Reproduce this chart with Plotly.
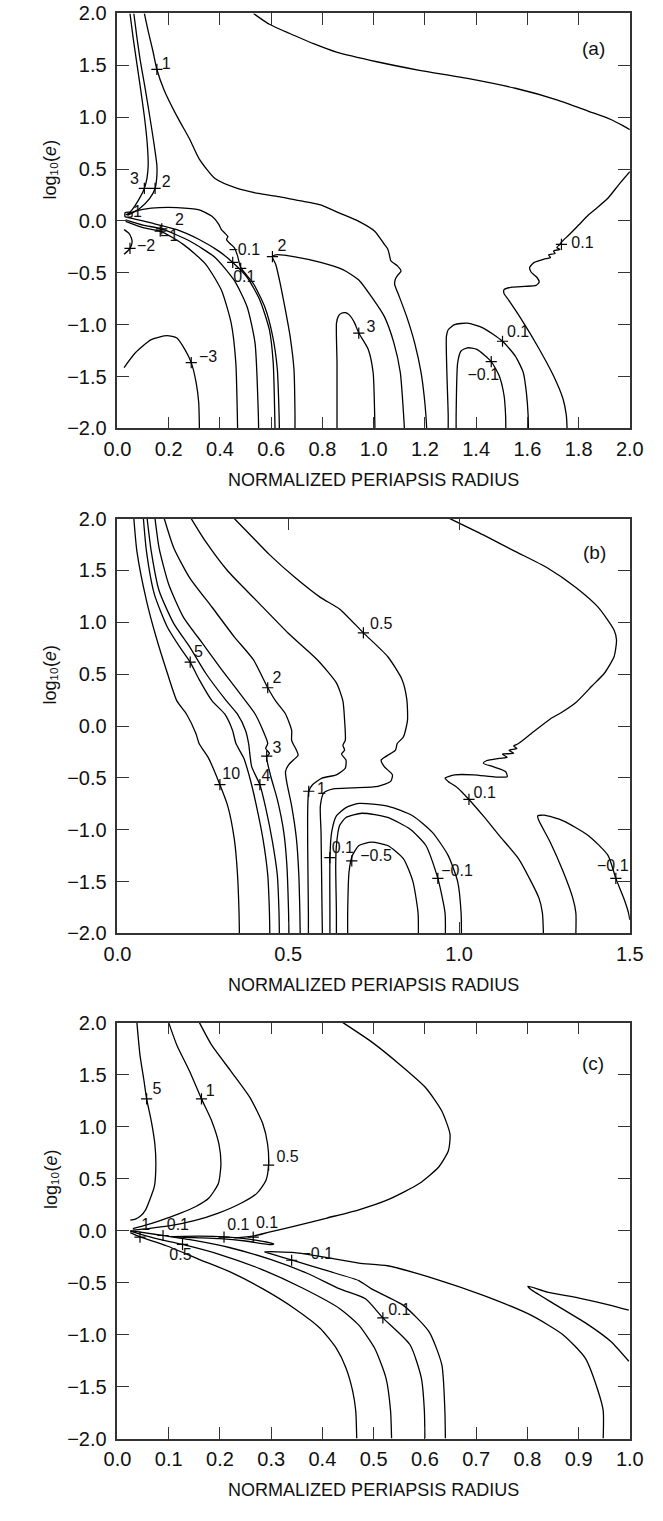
import plotly.graph_objects as go

# ======================= PANEL (a) data =======================
A_ONE_X = [0.105, 0.120, 0.138, 0.154, 0.182, 0.232, 0.282, 0.319, 0.381, 0.468, 0.55, 0.631, 0.71, 0.793, 0.867, 0.942, 1.004, 1.042, 1.055, 1.061, 1.067, 1.080, 1.092, 1.107, 1.095, 1.085, 1.082, 1.098, 1.129, 1.160, 1.185, 1.197, 1.204, 1.207]
A_ONE_Y = [2.0, 1.829, 1.643, 1.46, 1.263, 1.01, 0.788, 0.598, 0.408, 0.313, 0.265, 0.234, 0.195, 0.154, 0.075, -0.004, -0.099, -0.226, -0.27, -0.321, -0.384, -0.41, -0.431, -0.486, -0.52, -0.56, -0.612, -0.716, -0.923, -1.176, -1.461, -1.683, -1.873, -2.0]
A_TWO_X = [0.064, 0.076, 0.089, 0.107, 0.126, 0.142, 0.154, 0.154, 0.147, 0.126, 0.088, 0.057, 0.039]
A_TWO_Y = [2.0, 1.769, 1.548, 1.294, 1.009, 0.756, 0.534, 0.439, 0.313, 0.218, 0.123, 0.075, 0.053]
A_THREE_X = [0.049, 0.061, 0.074, 0.089, 0.105, 0.116, 0.120, 0.115, 0.105, 0.082, 0.057, 0.039]
A_THREE_Y = [2.0, 1.769, 1.548, 1.294, 1.009, 0.756, 0.534, 0.408, 0.313, 0.2, 0.106, 0.059]
A_TOP_X = [0.531, 0.593, 0.693, 0.768, 0.855, 1.017, 1.179, 1.366, 1.553, 1.715, 1.839, 1.926, 1.976, 2.0]
A_TOP_Y = [2.0, 1.896, 1.785, 1.706, 1.627, 1.532, 1.452, 1.374, 1.279, 1.168, 1.057, 0.978, 0.914, 0.88]
A_FAN_M1_X = [0.032, 0.100, 0.169, 0.257, 0.344, 0.406, 0.444, 0.462, 0.468, 0.469]
A_FAN_M1_Y = [-0.004, -0.065, -0.10, -0.226, -0.416, -0.669, -0.986, -1.366, -1.873, -2.0]
A_FAN_2_X = [0.032, 0.100, 0.173, 0.282, 0.381, 0.456, 0.506, 0.537, 0.550, 0.551]
A_FAN_2_Y = [0.011, -0.04, -0.077, -0.194, -0.352, -0.574, -0.828, -1.176, -1.873, -2.0]
A_FAN_M01_X = [0.039, 0.132, 0.232, 0.319, 0.394, 0.450, 0.506, 0.556, 0.593, 0.608, 0.614, 0.615]
A_FAN_M01_Y = [0.034, -0.02, -0.084, -0.179, -0.289, -0.40, -0.543, -0.764, -1.049, -1.366, -1.873, -2.0]
A_ARC_01_X = [0.032, 0.07, 0.132, 0.232, 0.319, 0.369, 0.395, 0.406, 0.42, 0.431, 0.426, 0.44, 0.456, 0.468, 0.481, 0.531, 0.575, 0.606, 0.624, 0.631, 0.632]
A_ARC_01_Y = [0.059, 0.095, 0.123, 0.129, 0.106, 0.044, -0.03, -0.084, -0.12, -0.15, -0.18, -0.22, -0.257, -0.33, -0.448, -0.606, -0.828, -1.113, -1.430, -1.873, -2.0]
A_U2_X = [0.693, 0.693, 0.689, 0.674, 0.655, 0.635, 0.618, 0.605, 0.618, 0.693, 0.793, 0.88, 0.942, 0.992, 1.042, 1.079, 1.104, 1.117, 1.12]
A_U2_Y = [-2.0, -1.873, -1.43, -1.113, -0.85, -0.6, -0.42, -0.345, -0.327, -0.346, -0.40, -0.47, -0.57, -0.733, -0.923, -1.176, -1.461, -1.873, -2.0]
A_U3_X = [0.857, 0.857, 0.855, 0.862, 0.874, 0.89, 0.905, 0.925, 0.942, 0.979, 0.998, 1.004, 1.005]
A_U3_Y = [-2.0, -1.366, -0.986, -0.92, -0.89, -0.885, -0.906, -0.98, -1.081, -1.239, -1.461, -1.873, -2.0]
A_M3_X = [0.026, 0.07, 0.132, 0.194, 0.232, 0.263, 0.288, 0.307, 0.317, 0.320]
A_M3_Y = [-1.414, -1.271, -1.144, -1.106, -1.129, -1.239, -1.366, -1.556, -1.746, -2.0]
A_M2_X = [0.026, 0.045, 0.055, 0.057, 0.049, 0.040, 0.026]
A_M2_Y = [-0.084, -0.12, -0.17, -0.21, -0.264, -0.29, -0.321]
A_BOX_X = [0.030, 0.056, 0.056, 0.030, 0.030]
A_BOX_Y = [0.040, 0.040, 0.080, 0.080, 0.040]
A_WIG_X = [2.0, 1.96, 1.914, 1.864, 1.839, 1.80, 1.764, 1.733, 1.727, 1.715, 1.727, 1.702, 1.708, 1.683, 1.690, 1.665, 1.627, 1.609, 1.615, 1.637, 1.646, 1.634, 1.590, 1.540, 1.509, 1.509, 1.527, 1.578, 1.640, 1.702, 1.739, 1.752, 1.755]
A_WIG_Y = [0.475, 0.36, 0.218, 0.11, 0.059, -0.04, -0.131, -0.205, -0.226, -0.257, -0.274, -0.289, -0.314, -0.327, -0.352, -0.369, -0.40, -0.448, -0.495, -0.543, -0.590, -0.622, -0.631, -0.638, -0.663, -0.701, -0.764, -0.954, -1.208, -1.493, -1.715, -1.873, -2.0]
A_LP01_X = [1.291, 1.291, 1.284, 1.291, 1.316, 1.366, 1.428, 1.503, 1.553, 1.584, 1.596, 1.603, 1.604]
A_LP01_Y = [-2.0, -1.873, -1.113, -1.049, -1.0, -0.986, -1.033, -1.160, -1.303, -1.461, -1.651, -1.873, -2.0]
A_LM01_X = [1.322, 1.322, 1.328, 1.341, 1.366, 1.403, 1.459, 1.490, 1.509, 1.515, 1.516]
A_LM01_Y = [-2.0, -1.873, -1.366, -1.254, -1.223, -1.239, -1.356, -1.493, -1.683, -1.873, -2.0]

A_LAB_T = ["1", "2", "3", "2", "−1", "−2", "−0.1", "0.1", "2", "−3", "3", "0.1", "−0.1", "0.1", "1"]
A_LAB_X = [0.190, 0.190, 0.066, 0.242, 0.202, 0.112, 0.495, 0.495, 0.642, 0.354, 0.990, 1.564, 1.428, 1.815, 0.078]
A_LAB_Y = [1.50, 0.37, 0.39, 0.002, -0.156, -0.251, -0.292, -0.546, -0.25, -1.319, -1.033, -1.081, -1.493, -0.22, 0.08]
A_MRK_X = [0.154, 0.147, 0.105, 0.173, 0.167, 0.049, 0.450, 0.481, 0.605, 0.288, 0.942, 1.503, 1.459, 1.733]
A_MRK_Y = [1.46, 0.313, 0.313, -0.077, -0.099, -0.264, -0.40, -0.457, -0.345, -1.366, -1.081, -1.160, -1.356, -0.226]

# ======================= PANEL (b) data =======================
B_10_X = [0.048, 0.057, 0.085, 0.113, 0.146, 0.174, 0.202, 0.230, 0.239, 0.267, 0.300, 0.323, 0.342, 0.351, 0.356, 0.357]
B_10_Y = [2.0, 1.684, 1.209, 0.860, 0.511, 0.242, 0.116, -0.074, -0.169, -0.312, -0.566, -0.772, -1.088, -1.405, -1.801, -2.0]
B_5_X = [0.076, 0.085, 0.108, 0.146, 0.188, 0.213, 0.239, 0.277, 0.314, 0.337, 0.347, 0.370, 0.389, 0.407, 0.426, 0.440, 0.445, 0.446]
B_5_Y = [2.0, 1.684, 1.272, 0.955, 0.734, 0.616, 0.449, 0.242, 0.116, -0.043, -0.169, -0.312, -0.518, -0.772, -1.088, -1.437, -1.801, -2.0]
B_4_X = [0.087, 0.099, 0.122, 0.165, 0.211, 0.258, 0.319, 0.351, 0.375, 0.384, 0.393, 0.417, 0.435, 0.454, 0.468, 0.473, 0.474]
B_4_Y = [2.0, 1.684, 1.304, 0.987, 0.765, 0.511, 0.242, 0.116, -0.043, -0.169, -0.392, -0.566, -0.803, -1.120, -1.437, -1.801, -2.0]
B_3_X = [0.110, 0.122, 0.150, 0.193, 0.249, 0.305, 0.375, 0.403, 0.426, 0.440, 0.434, 0.445, 0.437, 0.449, 0.468, 0.487, 0.496, 0.501, 0.502]
B_3_Y = [2.0, 1.716, 1.367, 1.050, 0.797, 0.544, 0.242, 0.116, -0.043, -0.169, -0.217, -0.264, -0.297, -0.487, -0.708, -1.025, -1.342, -1.801, -2.0]
B_2_X = [0.137, 0.165, 0.211, 0.277, 0.342, 0.398, 0.440, 0.463, 0.492, 0.510, 0.510, 0.524, 0.529, 0.515, 0.501, 0.492, 0.496, 0.510, 0.524, 0.531, 0.534, 0.535]
B_2_Y = [2.0, 1.716, 1.431, 1.145, 0.860, 0.639, 0.369, 0.242, 0.116, -0.043, -0.138, -0.233, -0.280, -0.328, -0.375, -0.439, -0.549, -0.772, -1.088, -1.437, -1.801, -2.0]
B_1_X = [0.216, 0.258, 0.323, 0.407, 0.501, 0.585, 0.641, 0.660, 0.665, 0.667, 0.660, 0.665, 0.656, 0.669, 0.667, 0.641, 0.599, 0.571, 0.560, 0.557, 0.557, 0.559, 0.559]
B_1_Y = [2.0, 1.779, 1.494, 1.209, 0.892, 0.639, 0.416, 0.242, 0.052, -0.138, -0.185, -0.233, -0.271, -0.328, -0.407, -0.471, -0.502, -0.566, -0.629, -0.803, -1.183, -1.801, -2.0]
B_05_X = [0.342, 0.389, 0.445, 0.520, 0.594, 0.650, 0.720, 0.791, 0.833, 0.847, 0.849, 0.837, 0.819, 0.814, 0.772, 0.781, 0.805, 0.800, 0.763, 0.688, 0.632, 0.604, 0.594, 0.596, 0.599, 0.600]
B_05_Y = [2.0, 1.842, 1.652, 1.431, 1.240, 1.129, 0.898, 0.670, 0.449, 0.259, 0.052, -0.106, -0.169, -0.233, -0.328, -0.392, -0.47, -0.534, -0.582, -0.597, -0.606, -0.645, -0.772, -1.025, -1.801, -2.0]
B_01_X = [0.973, 1.071, 1.164, 1.258, 1.342, 1.407, 1.454, 1.461, 1.454, 1.426, 1.389, 1.342, 1.30, 1.267, 1.211, 1.174, 1.160, 1.169, 1.146, 1.160, 1.127, 1.141, 1.118, 1.080, 1.071, 1.099, 1.136, 1.141, 1.108, 1.043, 0.987, 0.959, 0.968, 0.996, 1.029, 1.071, 1.118, 1.174, 1.211, 1.234, 1.244, 1.247]
B_01_Y = [2.0, 1.842, 1.684, 1.526, 1.336, 1.146, 0.924, 0.829, 0.670, 0.511, 0.385, 0.226, 0.13, 0.068, -0.074, -0.169, -0.192, -0.217, -0.233, -0.264, -0.271, -0.302, -0.312, -0.335, -0.359, -0.392, -0.439, -0.487, -0.492, -0.471, -0.471, -0.502, -0.534, -0.597, -0.708, -0.867, -1.057, -1.278, -1.5, -1.659, -1.801, -2.0]
B_P01_X = [0.622, 0.622, 0.622, 0.627, 0.641, 0.669, 0.707, 0.791, 0.865, 0.922, 0.968, 0.996, 1.006, 1.007]
B_P01_Y = [-2.0, -1.801, -1.269, -1.025, -0.867, -0.787, -0.746, -0.772, -0.867, -1.025, -1.247, -1.5, -1.801, -2.0]
B_M01_X = [0.641, 0.641, 0.639, 0.641, 0.650, 0.669, 0.716, 0.791, 0.856, 0.903, 0.938, 0.959, 0.960]
B_M01_Y = [-2.0, -1.801, -1.342, -1.152, -0.962, -0.882, -0.841, -0.882, -0.993, -1.152, -1.469, -1.801, -2.0]
B_M05_X = [0.674, 0.674, 0.678, 0.688, 0.707, 0.744, 0.791, 0.837, 0.865, 0.880, 0.881]
B_M05_Y = [-2.0, -1.801, -1.405, -1.247, -1.152, -1.120, -1.152, -1.278, -1.500, -1.801, -2.0]
B_RM01_X = [1.342, 1.342, 1.333, 1.305, 1.267, 1.234, 1.230, 1.249, 1.305, 1.379, 1.436, 1.459, 1.482, 1.496, 1.500]
B_RM01_Y = [-2.0, -1.801, -1.659, -1.405, -1.120, -0.914, -0.867, -0.860, -0.914, -1.057, -1.247, -1.469, -1.659, -1.801, -1.87]

B_LAB_T = ["5", "2", "0.5", "10", "4", "3", "1", "0.1", "−0.5", "−0.1", "0.1", "−0.1"]
B_LAB_X = [0.237, 0.467, 0.772, 0.333, 0.435, 0.467, 0.597, 0.660, 0.757, 0.994, 1.075, 1.450]
B_LAB_Y = [0.702, 0.449, 0.972, -0.471, -0.496, -0.217, -0.620, -1.190, -1.262, -1.408, -0.654, -1.357]
B_MRK_X = [0.213, 0.440, 0.720, 0.300, 0.417, 0.437, 0.560, 0.622, 0.686, 0.938, 1.029, 1.459]
B_MRK_Y = [0.616, 0.369, 0.898, -0.566, -0.566, -0.29, -0.629, -1.269, -1.300, -1.469, -0.708, -1.469]

# ======================= PANEL (c) data =======================
C_5_X = [0.038, 0.044, 0.052, 0.057, 0.066, 0.073, 0.075, 0.072, 0.063, 0.055, 0.045, 0.035, 0.025]
C_5_Y = [2.0, 1.688, 1.435, 1.267, 1.055, 0.833, 0.643, 0.422, 0.295, 0.2, 0.14, 0.11, 0.1]
C_1_X = [0.100, 0.116, 0.141, 0.164, 0.184, 0.198, 0.202, 0.197, 0.178, 0.153, 0.122, 0.079, 0.05, 0.03]
C_1_Y = [2.0, 1.783, 1.530, 1.267, 1.055, 0.833, 0.643, 0.453, 0.311, 0.232, 0.165, 0.089, 0.045, 0.02]
C_05_X = [0.160, 0.184, 0.222, 0.259, 0.284, 0.293, 0.295, 0.290, 0.272, 0.241, 0.197, 0.15, 0.10, 0.06, 0.03]
C_05_Y = [2.0, 1.783, 1.530, 1.277, 1.023, 0.833, 0.643, 0.485, 0.358, 0.263, 0.168, 0.095, 0.045, 0.02, 0.005]
C_PAR_X = [0.44, 0.496, 0.552, 0.602, 0.633, 0.649, 0.646, 0.627, 0.589, 0.527, 0.471, 0.409, 0.346, 0.296, 0.265, 0.228]
C_PAR_Y = [2.0, 1.815, 1.593, 1.372, 1.150, 0.928, 0.770, 0.612, 0.453, 0.295, 0.2, 0.121, 0.042, -0.015, -0.053, -0.07]
C_SLV_X = [0.105, 0.16, 0.208, 0.26, 0.305, 0.300, 0.25, 0.20, 0.15, 0.105]
C_SLV_Y = [-0.058, -0.054, -0.060, -0.085, -0.128, -0.135, -0.100, -0.078, -0.068, -0.058]
C_R1_X = [0.025, 0.044, 0.097, 0.159, 0.222, 0.284, 0.346, 0.396, 0.427, 0.446, 0.459, 0.465, 0.467]
C_R1_Y = [-0.02, -0.06, -0.148, -0.276, -0.402, -0.561, -0.751, -0.941, -1.131, -1.321, -1.542, -1.732, -2.0]
C_F1_X = [0.025, 0.07, 0.127, 0.2, 0.28, 0.36, 0.434, 0.471, 0.502, 0.524, 0.533, 0.535]
C_F1_Y = [-0.005, -0.07, -0.133, -0.23, -0.37, -0.55, -0.751, -0.909, -1.131, -1.416, -1.732, -2.0]
C_F2_X = [0.025, 0.089, 0.15, 0.22, 0.3, 0.37, 0.434, 0.484, 0.518, 0.571, 0.593, 0.599, 0.600]
C_F2_Y = [0.0, -0.047, -0.095, -0.165, -0.28, -0.41, -0.561, -0.656, -0.839, -1.098, -1.416, -1.732, -2.0]
C_V_X = [0.948, 0.948, 0.938, 0.913, 0.870, 0.807, 0.714, 0.621, 0.527, 0.471, 0.409, 0.346, 0.287, 0.30, 0.346, 0.409, 0.471, 0.496, 0.558, 0.608, 0.633, 0.639, 0.640]
C_V_Y = [-2.0, -1.732, -1.542, -1.226, -1.003, -0.813, -0.623, -0.466, -0.338, -0.313, -0.259, -0.212, -0.205, -0.225, -0.291, -0.386, -0.481, -0.561, -0.719, -0.972, -1.289, -1.732, -2.0]
C_RS_X = [0.998, 0.963, 0.901, 0.839, 0.801, 0.807, 0.857, 0.920, 0.963, 0.998]
C_RS_Y = [-0.766, -0.719, -0.649, -0.592, -0.535, -0.566, -0.719, -0.909, -1.067, -1.257]

C_LAB_T = ["5", "1", "0.5", "1", "0.1", "0.5", "0.1", "0.1", "−0.1", "0.1"]
C_LAB_X = [0.077, 0.181, 0.332, 0.055, 0.118, 0.123, 0.236, 0.292, 0.390, 0.550]
C_LAB_Y = [1.356, 1.334, 0.70, 0.045, 0.045, -0.240, 0.045, 0.066, -0.237, -0.776]
C_MRK_X = [0.057, 0.164, 0.295, 0.044, 0.089, 0.127, 0.208, 0.265, 0.340, 0.518]
C_MRK_Y = [1.267, 1.267, 0.63, -0.063, -0.047, -0.133, -0.063, -0.063, -0.285, -0.839]

PANEL_TAGS = ["(a)", "(b)", "(c)"]
PANEL_TAG_X = [1.858, 1.398, 0.929]
PANEL_TAG_Y = [1.66, 1.668, 1.61]
X_RANGES = [[0, 2.0], [0, 1.5], [0, 1.0]]
X_DTICKS = [0.2, 0.5, 0.1]
Y_TICKS = [2.0, 1.5, 1.0, 0.5, 0.0, -0.5, -1.0, -1.5, -2.0]
X_TITLE = "NORMALIZED PERIAPSIS RADIUS"
Y_TITLE = "log₁₀(<i>e</i>)"
Y_TITLE_AT = 0.5   # data level (log10 e) at which the rotated title is centred

# ======================= figure =======================
W, H = 663, 1521
PX_L, PX_R = 108, 643
PANEL_PX = [(2.5, 423.5), (515, 936), (1026.5, 1448.5)]
FONT = "Liberation Sans, Arial, Helvetica, sans-serif"
LINE = dict(color="black", width=1.3)

CURVES = [
    (1, A_ONE_X, A_ONE_Y), (1, A_TWO_X, A_TWO_Y), (1, A_THREE_X, A_THREE_Y), (1, A_TOP_X, A_TOP_Y),
    (1, A_FAN_M1_X, A_FAN_M1_Y), (1, A_FAN_2_X, A_FAN_2_Y), (1, A_FAN_M01_X, A_FAN_M01_Y),
    (1, A_ARC_01_X, A_ARC_01_Y), (1, A_U2_X, A_U2_Y), (1, A_U3_X, A_U3_Y), (1, A_M3_X, A_M3_Y),
    (1, A_M2_X, A_M2_Y), (1, A_BOX_X, A_BOX_Y), (1, A_WIG_X, A_WIG_Y), (1, A_LP01_X, A_LP01_Y),
    (1, A_LM01_X, A_LM01_Y),
    (2, B_10_X, B_10_Y), (2, B_5_X, B_5_Y), (2, B_4_X, B_4_Y), (2, B_3_X, B_3_Y), (2, B_2_X, B_2_Y),
    (2, B_1_X, B_1_Y), (2, B_05_X, B_05_Y), (2, B_01_X, B_01_Y), (2, B_P01_X, B_P01_Y),
    (2, B_M01_X, B_M01_Y), (2, B_M05_X, B_M05_Y), (2, B_RM01_X, B_RM01_Y),
    (3, C_5_X, C_5_Y), (3, C_1_X, C_1_Y), (3, C_05_X, C_05_Y), (3, C_PAR_X, C_PAR_Y),
    (3, C_SLV_X, C_SLV_Y), (3, C_R1_X, C_R1_Y), (3, C_F1_X, C_F1_Y), (3, C_F2_X, C_F2_Y),
    (3, C_V_X, C_V_Y), (3, C_RS_X, C_RS_Y),
]
LABELS = [
    (1, A_LAB_T, A_LAB_X, A_LAB_Y, A_MRK_X, A_MRK_Y),
    (2, B_LAB_T, B_LAB_X, B_LAB_Y, B_MRK_X, B_MRK_Y),
    (3, C_LAB_T, C_LAB_X, C_LAB_Y, C_MRK_X, C_MRK_Y),
]


def ax_ids(k):
    return ("x", "y") if k == 1 else (f"x{k}", f"y{k}")


fig = go.Figure()
for k, xs, ys in CURVES:
    xa, ya = ax_ids(k)
    fig.add_trace(go.Scatter(x=xs, y=ys, mode="lines", line=dict(shape="spline", smoothing=0.6, **LINE),
                             xaxis=xa, yaxis=ya, hoverinfo="skip", showlegend=False))
for k, t, lx, ly, mx, my in LABELS:
    xa, ya = ax_ids(k)
    fig.add_trace(go.Scatter(x=mx, y=my, mode="markers",
                             marker=dict(symbol="cross-thin", size=8, line=dict(color="black", width=1.2)),
                             xaxis=xa, yaxis=ya, hoverinfo="skip", showlegend=False))
    fig.add_trace(go.Scatter(x=lx, y=ly, mode="text", text=t,
                             textfont=dict(family=FONT, size=16, color="#111"),
                             xaxis=xa, yaxis=ya, hoverinfo="skip", showlegend=False))

layout = dict(width=W, height=H, margin=dict(l=0, r=0, t=0, b=0),
              paper_bgcolor="white", plot_bgcolor="white", showlegend=False,
              font=dict(family=FONT, color="#111"))
annotations = []
for i in range(3):
    k = i + 1
    top, bot = PANEL_PX[i]
    dom_y = [1 - bot / H, 1 - top / H]
    axis_common = dict(showline=True, linecolor="#333", linewidth=1.6, mirror="ticks",
                       ticks="inside", ticklen=12, tickwidth=1.4, tickcolor="#333",
                       showgrid=False, zeroline=False, tickfont=dict(family=FONT, size=20, color="#111"))
    xk = "xaxis" if k == 1 else f"xaxis{k}"
    yk = "yaxis" if k == 1 else f"yaxis{k}"
    xa, ya = ax_ids(k)
    layout[xk] = dict(domain=[PX_L / W, PX_R / W], anchor=ya, range=X_RANGES[i],
                      tick0=0, dtick=X_DTICKS[i], tickformat=".1f", ticklabelstandoff=2,
                      title=dict(text=X_TITLE, standoff=14, font=dict(family=FONT, size=18, color="#111")),
                      **axis_common)
    layout[yk] = dict(domain=dom_y, anchor=xa, range=[-2.0, 2.0], tickvals=Y_TICKS,
                      tickformat=".1f", ticklabelstandoff=5, **axis_common)
    annotations.append(dict(text=PANEL_TAGS[i], x=PANEL_TAG_X[i], y=PANEL_TAG_Y[i], xref=xa, yref=ya,
                            showarrow=False, font=dict(family=FONT, size=19, color="#111")))
    annotations.append(dict(text=Y_TITLE, x=38 / W, y=Y_TITLE_AT, xref="paper", yref=ya,
                            showarrow=False, textangle=-90, xanchor="center", yanchor="middle",
                            font=dict(family=FONT, size=18, color="#111")))
layout["annotations"] = annotations
fig.update_layout(**layout)
fig.write_html("out.html")
